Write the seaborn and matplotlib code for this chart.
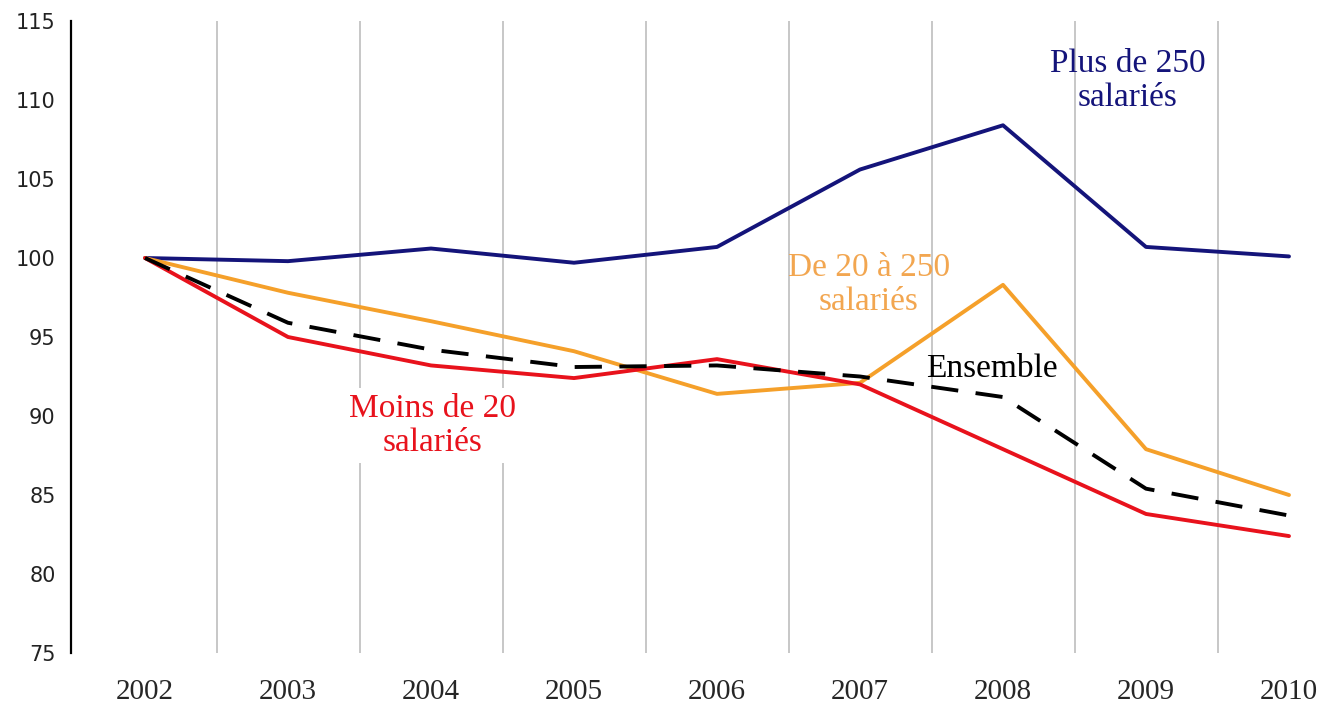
import pandas as pd
import seaborn as sns
import matplotlib.pyplot as plt
from matplotlib.ticker import FixedLocator

years = [2002, 2003, 2004, 2005, 2006, 2007, 2008, 2009, 2010]
plus_250 = [100, 99.8, 100.6, 99.7, 100.7, 105.6, 108.4, 100.7, 100.1]
de_20_250 = [100, 97.8, 96.0, 94.1, 91.4, 92.1, 98.3, 87.9, 85.0]
moins_20 = [100, 95.0, 93.2, 92.4, 93.6, 92.0, 87.9, 83.8, 82.4]
ensemble = [100, 95.9, 94.2, 93.1, 93.2, 92.5, 91.2, 85.4, 83.7]

df = pd.DataFrame({'annee': years, 'plus_250': plus_250, 'de_20_250': de_20_250,
                   'moins_20': moins_20, 'ensemble': ensemble})

sns.set_style('white')
plt.rcParams['font.family'] = ['Liberation Serif', 'DejaVu Serif']

fig = plt.figure(figsize=(13.24, 7.03), dpi=100)
ax = fig.add_axes([71 / 1324, 50 / 703, 1 - 71 / 1324, 632 / 703])

navy = '#14147a'
orange = '#f5a02a'
red = '#e8121c'

sns.lineplot(data=df, x='annee', y='plus_250', color=navy, linewidth=2.8, ax=ax)
sns.lineplot(data=df, x='annee', y='de_20_250', color=orange, linewidth=2.8, ax=ax)
sns.lineplot(data=df, x='annee', y='moins_20', color=red, linewidth=2.8, ax=ax)
sns.lineplot(data=df, x='annee', y='ensemble', color='black', linewidth=2.8,
             linestyle='--', ax=ax)
ax.lines[-1].set_dashes((7, 4.5))

ax.set_xlim(2002 - 74 / 143, 2002 + (1324 - 145) / 143)
ax.set_ylim(75, 115)
ax.set_xticks(years)
ax.set_xticklabels([str(y) for y in years], fontsize=21)
ax.set_yticks(range(75, 116, 5))
ax.set_yticklabels([str(v) for v in range(75, 116, 5)], fontsize=15,
                   family='DejaVu Sans', color='#222222')
ax.xaxis.set_minor_locator(FixedLocator([y + 0.5 for y in years[:-1]]))
ax.grid(which='minor', axis='x', color='#b8b8b8', linewidth=1.1)
ax.tick_params(axis='x', which='both', length=0, pad=19)
ax.tick_params(axis='y', length=6, width=1.5, direction='out', color='black', pad=5)
ax.set_xlabel('')
ax.set_ylabel('')
for side in ['top', 'right', 'bottom']:
    ax.spines[side].set_visible(False)
ax.spines['left'].set_color('black')
ax.spines['left'].set_linewidth(1.6)

ax.text(2008.87, 111.2, 'Plus de 250\nsalariés', color=navy, fontsize=24,
        ha='center', va='center', linespacing=1.15)
ax.text(2007.06, 98.3, 'De 20 à 250\nsalariés', color='#f2a650', fontsize=24,
        ha='center', va='center', linespacing=1.15)
ax.text(2007.92, 93.0, 'Ensemble', color='black', fontsize=24,
        ha='center', va='center')
ax.text(2004.01, 89.4, 'Moins de 20\nsalariés', color=red, fontsize=24,
        ha='center', va='center', linespacing=1.15,
        bbox=dict(facecolor='white', edgecolor='none', pad=4))

plt.savefig('out.png', dpi=100)
